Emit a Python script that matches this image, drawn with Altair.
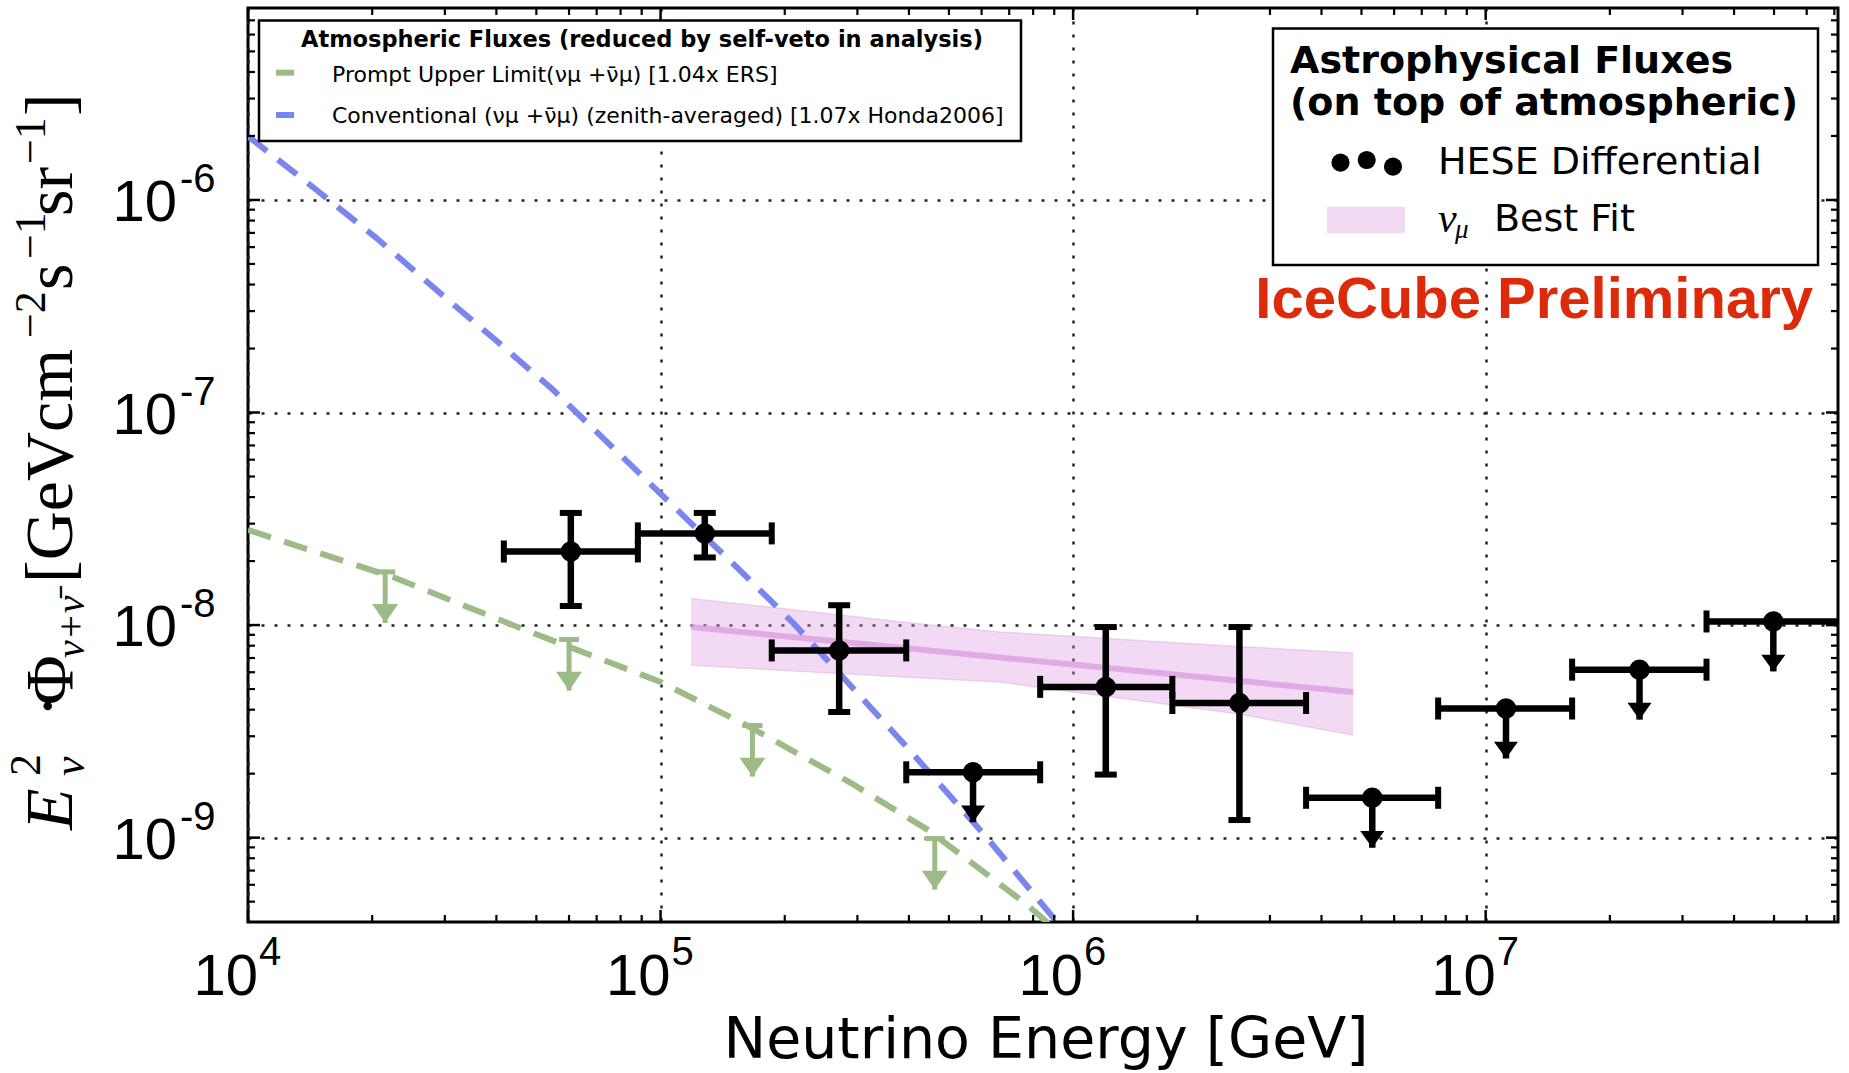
import altair as alt
import pandas as pd

# ---------------- data ----------------
# HESE differential unfolding (E^2 * flux), energy bins in GeV
hese_e_lo = [4.17e4, 8.81e4, 1.86e5, 3.94e5, 8.32e5, 1.74e6, 3.67e6, 7.67e6, 1.62e7, 3.43e7]
hese_e_hi = [8.81e4, 1.86e5, 3.94e5, 8.32e5, 1.74e6, 3.67e6, 7.67e6, 1.62e7, 3.43e7, 7.24e7]
hese_e_c = [6.06e4, 1.28e5, 2.71e5, 5.72e5, 1.20e6, 2.53e6, 5.31e6, 1.12e7, 2.36e7, 4.98e7]
hese_flux = [2.22e-8, 2.70e-8, 7.60e-9, 2.03e-9, 5.12e-9, 4.30e-9, 1.54e-9, 4.05e-9, 6.17e-9, 1.04e-8]
hese_err_lo = [1.23e-8, 2.08e-8, 3.90e-9, None, 1.98e-9, 1.21e-9, None, None, None, None]
hese_err_hi = [3.37e-8, 3.37e-8, 1.24e-8, None, 9.79e-9, 9.79e-9, None, None, None, None]
hese_is_ul = [False, False, False, True, False, False, True, True, True, True]

# conventional atmospheric (blue dashed)
conv_e = [1.0e4, 1.466e4, 2.051e4, 2.864e4, 3.936e4, 5.495e4, 8.75e4, 1.178e5, 1.542e5,
          2.104e5, 2.818e5, 4.018e5, 6.109e5, 8.93e5, 9.77e5]
conv_flux = [1.995e-6, 1.114e-6, 6.61e-7, 3.767e-7, 2.234e-7, 1.276e-7, 5.33e-8, 3.05e-8, 1.845e-8,
             1.016e-8, 5.47e-9, 2.576e-9, 1.026e-9, 4.23e-10, 3.39e-10]

# prompt upper limit (green dashed) and its arrows
prompt_e = [1.0e4, 2.244e4, 4.71e4, 1.0e5, 1.648e5, 2.911e5, 4.467e5, 7.674e5, 8.91e5]
prompt_flux = [2.805e-8, 1.683e-8, 9.46e-9, 5.40e-9, 3.31e-9, 1.795e-9, 1.081e-9, 4.89e-10, 3.80e-10]
prompt_ul_e = [2.15e4, 6.0e4, 1.67e5, 4.62e5]
prompt_ul_flux = [1.78e-8, 8.55e-9, 3.37e-9, 9.9e-10]

# numu best fit band
fit_e = [1.186e5, 2.239e5, 3.864e5, 6.637e5, 1.0e6, 1.585e6, 2.512e6, 4.775e6]
fit_hi = [1.334e-8, 1.164e-8, 1.035e-8, 9.29e-9, 8.85e-9, 8.38e-9, 7.93e-9, 7.40e-9]
fit_lo = [6.47e-9, 6.04e-9, 5.70e-9, 5.40e-9, 4.84e-9, 4.31e-9, 3.82e-9, 3.03e-9]
fit_best_e = [1.186e5, 4.775e6]
fit_best = [9.79e-9, 4.84e-9]

# axes
x_major = [1e4, 1e5, 1e6, 1e7]
x_exp_labels = ["4", "5", "6", "7"]
y_major = [1e-9, 1e-8, 1e-7, 1e-6]
y_exp_labels = ["-9", "-8", "-7", "-6"]
X_DOMAIN = [1e4, 7.145e7]
Y_DOMAIN = [4.01e-10, 8.0e-6]

# ---------------- style ----------------
W, H = 1590, 914
PAD = {"left": 248, "top": 8, "right": 11, "bottom": 151}
BLUE = "#7a86ee"
GREEN = "#9dbb87"
PINK = "#da96e0"
RED = "#dc2a0b"
SANS = "DejaVu Sans"
LSANS = "Liberation Sans"
SERIF = "Liberation Serif"
DASH = [24, 14]
UL_ARROW = 0.582      # arrow length (style), ~0.235 decade
PROMPT_ARROW = 0.575
TRI = "M-1,-1.4L1,-1.4L0,0Z"
TRI_G = "M-1,-1.45L1,-1.45L0,0Z"

XS = alt.Scale(type="log", domain=X_DOMAIN, nice=False)
YS = alt.Scale(type="log", domain=Y_DOMAIN, nice=False)
XAX = alt.Axis(values=x_major, grid=True, gridDash=[3, 10], gridColor="#222222", gridWidth=2.5,
               labels=False, ticks=False, domain=False, title=None)
YAX = alt.Axis(values=y_major, grid=True, gridDash=[3, 10], gridColor="#222222", gridWidth=2.5,
               labels=False, ticks=False, domain=False, title=None)


def X(f):
    return alt.X(f"{f}:Q", scale=XS, axis=XAX)


def Y(f):
    return alt.Y(f"{f}:Q", scale=YS, axis=YAX)


ONE = pd.DataFrame({"k": [0]})


def txt(text, x, y, size, font=SANS, weight="normal", style="normal", color="black",
        align="left", baseline="alphabetic", angle=0):
    return alt.Chart(ONE).mark_text(align=align, baseline=baseline, fontSize=size, font=font,
                                    fontWeight=weight, fontStyle=style, color=color,
                                    angle=angle).encode(x=alt.value(x), y=alt.value(y),
                                                        text=alt.value(text))


# ---------------- frames ----------------
hese = pd.DataFrame(dict(e_lo=hese_e_lo, e_hi=hese_e_hi, e=hese_e_c, f=hese_flux,
                         lo=hese_err_lo, hi=hese_err_hi, ul=hese_is_ul))
hese["tip"] = hese["f"] * UL_ARROW
meas = hese[~hese["ul"]][["e", "f", "lo", "hi"]].astype(float)
ul = hese[hese["ul"]][["e", "f", "tip"]]
xcaps = pd.concat([pd.DataFrame({"e": hese["e_lo"], "f": hese["f"]}),
                   pd.DataFrame({"e": hese["e_hi"], "f": hese["f"]})])
ycaps = pd.concat([pd.DataFrame({"e": meas["e"], "f": meas["lo"]}),
                   pd.DataFrame({"e": meas["e"], "f": meas["hi"]})])
hbars = hese[["e_lo", "e_hi", "f"]]
dots = hese[["e", "f"]]

conv = pd.DataFrame({"e": conv_e, "f": conv_flux})
prompt = pd.DataFrame({"e": prompt_e, "f": prompt_flux})
pul = pd.DataFrame({"e": prompt_ul_e, "f": prompt_ul_flux})
pul["tip"] = pul["f"] * PROMPT_ARROW
fit = pd.DataFrame({"e": fit_e, "hi": fit_hi, "lo": fit_lo})
best = pd.DataFrame({"e": fit_best_e, "f": fit_best})

layers = []

# best-fit band
layers.append(alt.Chart(fit).mark_area(color=PINK, opacity=0.35, clip=True)
              .encode(x=X("e"), y=Y("hi"), y2=alt.Y2("lo")))
layers.append(alt.Chart(fit).mark_line(color=PINK, opacity=0.35, strokeWidth=1.5, clip=True)
              .encode(x=X("e"), y=Y("hi")))
layers.append(alt.Chart(fit).mark_line(color=PINK, opacity=0.35, strokeWidth=1.5, clip=True)
              .encode(x=X("e"), y=Y("lo")))
layers.append(alt.Chart(best).mark_line(color="#d99be0", opacity=0.75, strokeWidth=6, clip=True)
              .encode(x=X("e"), y=Y("f")))

# atmospheric lines
layers.append(alt.Chart(prompt).mark_line(color=GREEN, strokeWidth=6, strokeDash=DASH, clip=True)
              .encode(x=X("e"), y=Y("f")))
layers.append(alt.Chart(conv).mark_line(color=BLUE, strokeWidth=6, strokeDash=DASH, clip=True)
              .encode(x=X("e"), y=Y("f")))

# prompt arrows
layers.append(alt.Chart(pul).mark_rule(color=GREEN, strokeWidth=5, clip=True)
              .encode(x=X("e"), y=Y("f"), y2=alt.Y2("tip")))
layers.append(alt.Chart(pul).mark_tick(orient="horizontal", color=GREEN, size=20, thickness=5,
                                       opacity=1, clip=True)
              .encode(x=X("e"), y=Y("f")))
layers.append(alt.Chart(pul).mark_point(shape=TRI_G, filled=True, size=676, color=GREEN,
                                        opacity=1, strokeWidth=0, clip=True)
              .encode(x=X("e"), y=Y("tip")))

# HESE points
layers.append(alt.Chart(hbars).mark_rule(color="black", strokeWidth=6.5, clip=True)
              .encode(x=X("e_lo"), x2=alt.X2("e_hi"), y=Y("f")))
layers.append(alt.Chart(xcaps).mark_tick(orient="vertical", color="black", size=22, thickness=6,
                                         opacity=1, clip=True)
              .encode(x=X("e"), y=Y("f")))
layers.append(alt.Chart(meas).mark_rule(color="black", strokeWidth=6.5, clip=True)
              .encode(x=X("e"), y=Y("lo"), y2=alt.Y2("hi")))
layers.append(alt.Chart(ycaps).mark_tick(orient="horizontal", color="black", size=22, thickness=6,
                                         opacity=1, clip=True)
              .encode(x=X("e"), y=Y("f")))
layers.append(alt.Chart(ul).mark_rule(color="black", strokeWidth=6.5, clip=True)
              .encode(x=X("e"), y=Y("f"), y2=alt.Y2("tip")))
layers.append(alt.Chart(ul).mark_point(shape=TRI, filled=True, size=576, color="black",
                                       opacity=1, strokeWidth=0, clip=True)
              .encode(x=X("e"), y=Y("tip")))
layers.append(alt.Chart(dots).mark_circle(size=420, color="black", opacity=1, clip=True)
              .encode(x=X("e"), y=Y("f")))

# ---------------- ticks (inward, all four sides) ----------------
x_minor = [m * 10.0 ** k for k in (4, 5, 6, 7) for m in range(2, 10) if m * 10.0 ** k < X_DOMAIN[1]]
y_minor = [m * 10.0 ** k for k in (-10, -9, -8, -7, -6) for m in range(2, 10)
           if Y_DOMAIN[0] < m * 10.0 ** k < Y_DOMAIN[1]]


def xticks(vals, length, sw):
    d = pd.DataFrame({"e": vals})
    base = alt.Chart(d).mark_rule(color="black", strokeWidth=sw)
    return [base.encode(x=X("e"), y=alt.value(H), y2=alt.value(H - length)),
            base.encode(x=X("e"), y=alt.value(0), y2=alt.value(length))]


def yticks(vals, length, sw):
    d = pd.DataFrame({"f": vals})
    base = alt.Chart(d).mark_rule(color="black", strokeWidth=sw)
    return [base.encode(y=Y("f"), x=alt.value(0), x2=alt.value(length)),
            base.encode(y=Y("f"), x=alt.value(W), x2=alt.value(W - length))]


layers += xticks(x_major, 12, 2.5) + xticks(x_minor, 7, 2.2)
layers += yticks(y_major, 12, 2.5) + yticks(y_minor, 7, 2.2)

# ---------------- tick labels ----------------
xl = pd.DataFrame({"e": x_major, "exp": x_exp_labels})
layers.append(alt.Chart(xl).mark_text(align="right", baseline="alphabetic", fontSize=58, font=LSANS, dx=10)
              .encode(x=X("e"), y=alt.value(H + 73), text=alt.value("10")))
layers.append(alt.Chart(xl).mark_text(align="left", baseline="alphabetic", fontSize=40, font=LSANS, dx=11)
              .encode(x=X("e"), y=alt.value(H + 43), text="exp:N"))
yl = pd.DataFrame({"f": y_major, "exp": y_exp_labels})
layers.append(alt.Chart(yl).mark_text(align="right", baseline="alphabetic", fontSize=58, font=LSANS, dy=21)
              .encode(y=Y("f"), x=alt.value(-71), text=alt.value("10")))
layers.append(alt.Chart(yl).mark_text(align="left", baseline="alphabetic", fontSize=40, font=LSANS, dy=-8)
              .encode(y=Y("f"), x=alt.value(-68), text="exp:N"))

# ---------------- axis titles ----------------
layers.append(txt("Neutrino Energy [GeV]", W / 2 + 3, H + 136, 57, align="center"))

# y title segments: (text, size, y along axis, x baseline, style)  [positions in page px]
ytitle_segments = [
    ("E", 68, 830, 72, "italic"),
    ("2", 44, 776, 40, "normal"),
    ("ν", 44, 776, 84, "italic"),
    ("·", 72, 718, 72, "normal"),
    ("Φ", 68, 705, 72, "normal"),
    ("ν+ν̄", 40, 658, 84, "italic"),
    ("[GeVcm", 68, 583, 72, "normal"),
    ("−2", 44, 338, 45, "normal"),
    ("s", 68, 290, 72, "normal"),
    ("−1", 44, 259, 45, "normal"),
    ("sr", 68, 216, 72, "normal"),
    ("−1", 44, 164, 45, "normal"),
    ("]", 68, 116, 72, "normal"),
]
for t, s, yy, xx, st in ytitle_segments:
    layers.append(txt(t, xx - PAD["left"], yy - PAD["top"], s, font=SERIF, style=st, angle=270))

# ---------------- legend: atmospheric ----------------
layers.append(alt.Chart(ONE).mark_rect(fill="white", stroke="black", strokeWidth=2.5)
              .encode(x=alt.value(11), x2=alt.value(773), y=alt.value(12.5), y2=alt.value(133)))
layers.append(txt("Atmospheric Fluxes (reduced by self-veto in analysis)", 394, 38.7, 22.5,
                  weight="bold", align="center"))
layers.append(alt.Chart(ONE).mark_rule(color=GREEN, strokeWidth=6)
              .encode(x=alt.value(28), x2=alt.value(46), y=alt.value(64.7)))
layers.append(alt.Chart(ONE).mark_rule(color=BLUE, strokeWidth=6)
              .encode(x=alt.value(28), x2=alt.value(46), y=alt.value(107)))
layers.append(txt("Prompt Upper Limit(νμ +ν̄μ) [1.04x ERS]", 84, 73.7, 22))
layers.append(txt("Conventional (νμ +ν̄μ) (zenith-averaged) [1.07x Honda2006]", 84, 115.3, 22))

# ---------------- legend: astrophysical ----------------
layers.append(alt.Chart(ONE).mark_rect(fill="white", stroke="black", strokeWidth=2.5)
              .encode(x=alt.value(1025), x2=alt.value(1570), y=alt.value(20.5), y2=alt.value(257)))
layers.append(txt("Astrophysical Fluxes", 1042, 65.3, 38, weight="bold"))
layers.append(txt("(on top of atmospheric)", 1042, 107, 38, weight="bold"))
for px, py in [(1092.5, 154.7), (1118.7, 152), (1145, 158.7)]:
    layers.append(alt.Chart(ONE).mark_circle(size=330, color="black", opacity=1)
                  .encode(x=alt.value(px), y=alt.value(py)))
layers.append(txt("HESE Differential", 1190, 166, 38))
layers.append(alt.Chart(ONE).mark_rect(fill=PINK, opacity=0.35)
              .encode(x=alt.value(1079), x2=alt.value(1157), y=alt.value(198.7), y2=alt.value(225.3)))
layers.append(txt("ν", 1190, 223.5, 42, font=SERIF, style="italic"))
layers.append(txt("μ", 1207, 230, 27, font=SERIF, style="italic"))
layers.append(txt("Best Fit", 1246, 222.7, 38))

# ---------------- watermark ----------------
layers.append(txt("IceCube Preliminary", 1565, 310, 58, font=LSANS, weight="bold", color=RED,
                  align="right"))

chart = (alt.layer(*layers)
         .properties(width=W, height=H, padding=PAD, autosize=alt.AutoSizeParams(type="none"),
                     background="white")
         .configure_view(stroke="black", strokeWidth=3))

chart.save("out.html", embed_options={"renderer": "svg", "actions": False})
